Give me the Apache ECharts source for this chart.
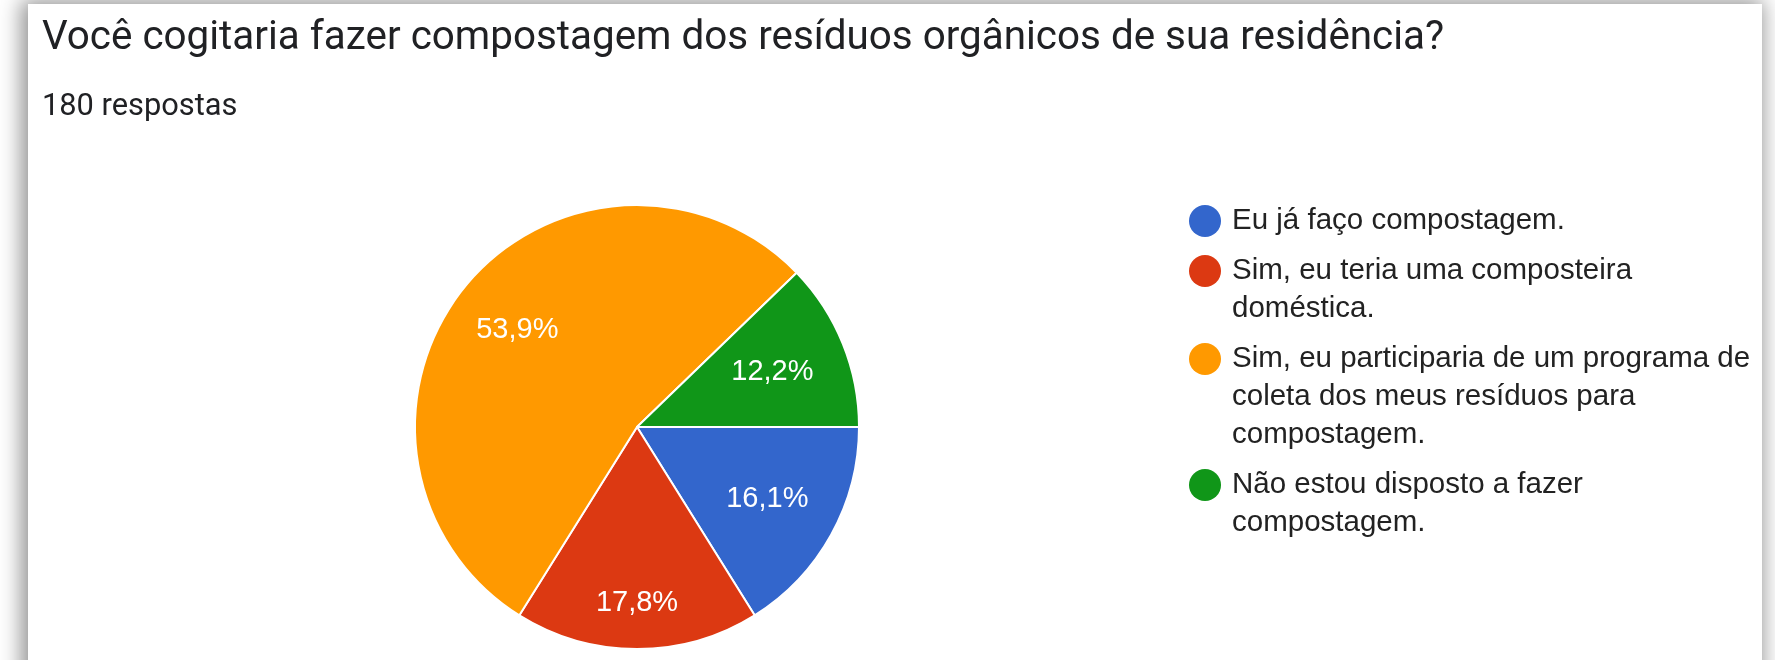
<!DOCTYPE html>
<html>
<head>
<meta charset="utf-8">
<script src="https://cdn.jsdelivr.net/npm/echarts@6/dist/echarts.min.js"></script>
<style>
  html, body { margin: 0; padding: 0; background: #fff; overflow: hidden; }
  #frame {
    position: absolute; left: 28px; top: 4px; width: 1734px; height: 720px;
    background: #fff; box-shadow: -3px 0 20px 4px rgba(0, 0, 0, 0.42);
  }
  #chart { position: absolute; left: 0; top: 0; width: 1775px; height: 660px; }
</style>
</head>
<body>
<div id="frame"></div>
<div id="chart"></div>
<script>
// answers and number of responses (180 total)
const categories = [
  "Eu já faço compostagem.",
  "Sim, eu teria uma composteira doméstica.",
  "Sim, eu participaria de um programa de coleta dos meus resíduos para compostagem.",
  "Não estou disposto a fazer compostagem.",
];
const counts = [29, 32, 97, 22];
const colors = ["#3366cc", "#dc3912", "#ff9900", "#109618"];
// legend text broken the way the form shows it
const legendLines = [
  ["Eu já faço compostagem."],
  ["Sim, eu teria uma composteira", "doméstica."],
  ["Sim, eu participaria de um programa de", "coleta dos meus resíduos para", "compostagem."],
  ["Não estou disposto a fazer", "compostagem."],
];
// inner edge of the invisible ring carrying each slice's label (label sits mid-ring)
const labelRingInner = [70, 124, 80, 64];

const total = counts.reduce((a, b) => a + b, 0);
const pieData = categories.map((name, i) => ({
  name,
  value: counts[i],
  itemStyle: { color: colors[i] },
}));

const rich = {
  t: { fontFamily: "Liberation Sans, Arial", fontSize: 29.5, color: "#222", lineHeight: 38 },
  sp: { width: 11, height: 38, lineHeight: 38 },
  ind: { width: 43, height: 38, lineHeight: 38 },
};
colors.forEach((c, i) => {
  rich["c" + i] = { width: 32, height: 32, borderRadius: 16, backgroundColor: c, lineHeight: 38 };
});

const labelSeries = categories.map((_, k) => ({
  type: "pie",
  center: [637, 427],
  radius: [labelRingInner[k], 222],
  startAngle: 0,
  clockwise: true,
  silent: true,
  data: pieData.map((d, i) => ({
    name: d.name,
    value: d.value,
    itemStyle: { color: "rgba(0,0,0,0)" },
    label: { show: i === k },
  })),
  label: {
    position: "inside",
    fontFamily: "Liberation Sans, Arial",
    fontSize: 29,
    color: "#fff",
    formatter: (p) => ((p.value / total) * 100).toFixed(1).replace(".", ",") + "%",
  },
  labelLine: { show: false },
  emphasis: { disabled: true },
}));

const chart = echarts.init(document.getElementById("chart"));
chart.setOption({
  backgroundColor: "transparent",
  animation: false,
  title: [
    {
      text: "Você cogitaria fazer compostagem dos resíduos orgânicos de sua residência?",
      left: 42,
      top: 19,
      padding: 0,
      textStyle: { fontFamily: "Roboto", fontWeight: "normal", fontSize: 40.4, color: "#202124" },
    },
    {
      text: "180 respostas",
      left: 42,
      top: 92,
      padding: 0,
      textStyle: { fontFamily: "Roboto", fontWeight: "normal", fontSize: 30.8, color: "#202124" },
    },
  ],
  legend: {
    orient: "vertical",
    left: 1184,
    top: 202,
    padding: 0,
    itemGap: 12,
    itemWidth: 0,
    itemHeight: 38,
    icon: "none",
    selectedMode: false,
    data: categories,
    formatter: (name) => {
      const i = categories.indexOf(name);
      return legendLines[i]
        .map((line, j) => (j === 0 ? `{c${i}|}{sp|}{t|${line}}` : `{ind|}{t|${line}}`))
        .join("\n");
    },
    textStyle: { padding: 0, rich },
  },
  series: [
    {
      type: "pie",
      center: [637, 427],
      radius: 222,
      startAngle: 0,
      clockwise: true,
      data: pieData,
      label: { show: false },
      labelLine: { show: false },
      itemStyle: { borderColor: "#fff", borderWidth: 2 },
      emphasis: { disabled: true },
    },
    ...labelSeries,
  ],
});
</script>
</body>
</html>
